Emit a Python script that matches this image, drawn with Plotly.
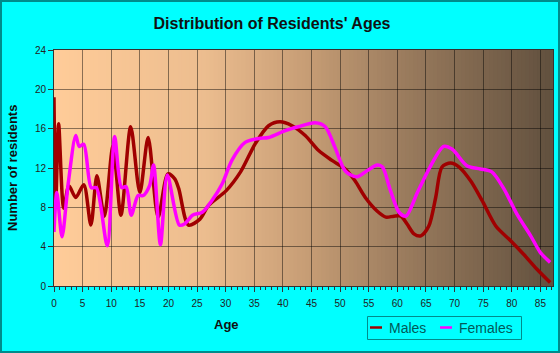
import plotly.graph_objects as go

# ---- data ----
male_ages = [0, 0.3, 0.8, 1.7, 2.6, 3.8, 5.2, 6.45, 7.5, 8.8, 10.3, 11.7, 13.4, 15.0, 16.45,
             18.2, 19.9, 21.1, 21.8, 23.5, 25.5, 27, 30.1, 32.6, 35.2, 37.5, 39.5, 41.6, 43.9,
             46.2, 48.5, 50.9, 52.6, 54.4, 56.5, 58, 59.4, 60.6, 61.7, 62.9, 64.1, 65.5, 66.7,
             67.8, 69.3, 70.8, 72.8, 74.8, 77.2, 79.8, 82.1, 84.4, 86.7]
male_vals = [19.2, 8.2, 16.5, 7.9, 10.2, 9.0, 10.3, 6.2, 11.2, 7.1, 14.2, 7.2, 16.2, 9.5, 15.1,
             7.0, 11.4, 10.9, 9.9, 6.2, 6.8, 8.2, 9.7, 11.6, 14.5, 16.3, 16.7, 16.3, 15.3,
             13.8, 12.8, 11.9, 10.7, 9.0, 7.6, 7.0, 7.1, 7.1, 6.3, 5.3, 5.1, 6.1, 9.0,
             12.1, 12.5, 12.1, 10.7, 8.7, 6.1, 4.6, 3.2, 1.7, 0.35]

female_ages = [0, 0.5, 1.4, 2.5, 3.8, 4.4, 5.2, 6.5, 7.4, 9.3, 10.6, 11.8, 12.6, 13.5, 14.7,
               15.6, 16.7, 17.4, 18.6, 19.8, 21.9, 22.8, 24.2, 25.9, 27.6, 29.4, 31.1, 33.4,
               35.8, 37.5, 40.4, 42.7, 45.6, 47.4, 49.1, 50.9, 52.9, 54.9, 56.5, 57.4, 58.8,
               60.3, 61.5, 63.5, 65.8, 68.1, 69.6, 72.2, 74.5, 76.5, 78.6, 80.9, 83.3, 85.0, 86.7]
female_vals = [5.5, 9.5, 5.0, 10.5, 15.3, 14.2, 14.4, 10.0, 10.0, 4.1, 15.2, 10.0, 10.1, 7.2, 9.2,
               9.2, 10.2, 12.3, 4.2, 11.3, 6.2, 6.3, 7.2, 7.5, 8.7, 10.4, 12.8, 14.6,
               15.0, 15.1, 15.8, 16.2, 16.6, 16.2, 14.1, 11.7, 11.1, 11.8, 12.3, 12.1, 9.7,
               7.5, 7.1, 9.5, 12.2, 14.2, 13.9, 12.2, 11.9, 11.6, 9.9, 7.3, 5.1, 3.4, 2.4]

series_names = ["Males", "Females"]
series_colors = ["#a00000", "#ff00ff"]

x_ticks = list(range(0, 90, 5))
y_ticks = list(range(0, 28, 4))

W, H = 560, 353
L, R, T, B = 54, 7, 50, 67
PW, PH = W - L - R, H - T - B


def px_x(p):
    return (p - L) / PW


def px_y(p):
    return (T + PH - p) / PH


fig = go.Figure()
for name, color, xs, ys in zip(series_names, series_colors,
                               [male_ages, female_ages], [male_vals, female_vals]):
    fig.add_trace(go.Scatter(x=xs, y=ys, name=name, mode="lines", showlegend=False,
                             line=dict(color=color, width=3.5, shape="spline", smoothing=0.8)))

# gradient background strips
stops = [(0.0, (255, 204, 153)), (0.3, (236, 189, 143)), (0.5, (200, 158, 118)),
         (0.7, (155, 124, 94)), (1.0, (97, 80, 62))]


def col(f):
    for (a, ca), (b, cb) in zip(stops[:-1], stops[1:]):
        if a <= f <= b:
            t = (f - a) / (b - a)
            return "rgb(%d,%d,%d)" % tuple(round(ca[i] + (cb[i] - ca[i]) * t) for i in range(3))
    return "rgb(%d,%d,%d)" % stops[-1][1]


shapes = []
N = 125
for i in range(N):
    x0 = i / N
    x1 = min(1.0, (i + 1.6) / N)
    shapes.append(dict(type="rect", xref="paper", yref="paper", x0=x0, x1=x1, y0=0, y1=1,
                       fillcolor=col((i + 0.5) / N), line=dict(width=0), layer="below"))
# figure border
shapes.append(dict(type="rect", xref="paper", yref="paper",
                   x0=px_x(1), x1=px_x(W - 1), y0=px_y(H - 1), y1=px_y(1),
                   line=dict(color="#008b8b", width=2), fillcolor="rgba(0,0,0,0)", layer="above"))
# manual legend box
shapes.append(dict(type="rect", xref="paper", yref="paper",
                   x0=px_x(367.5), x1=px_x(521.5), y0=px_y(339.5), y1=px_y(316.5),
                   line=dict(color="#008b8b", width=1), fillcolor="rgba(0,0,0,0)", layer="above"))
legend_items = [(370, 387, series_names[0], series_colors[0]),
                (440, 457, series_names[1], series_colors[1])]
annotations = []
for lx, tx, name, color in legend_items:
    shapes.append(dict(type="line", xref="paper", yref="paper",
                       x0=px_x(lx), x1=px_x(lx + 12), y0=px_y(327.5), y1=px_y(327.5),
                       line=dict(color=color, width=2.5), layer="above"))
    annotations.append(dict(text=name, xref="paper", yref="paper", x=px_x(tx), y=px_y(328),
                            xanchor="left", yanchor="middle", showarrow=False,
                            font=dict(size=14, color="#005a5a")))

annotations += [
    dict(text="<b>Age</b>", xref="paper", yref="paper", x=px_x(226), y=px_y(324),
         showarrow=False, font=dict(size=13, color="#111"), xanchor="center", yanchor="middle"),
    dict(text="<b>Number of residents</b>", xref="paper", yref="paper", x=px_x(12), y=0.5,
         textangle=-90, showarrow=False, font=dict(size=13, color="#111"),
         xanchor="center", yanchor="middle"),
]

fig.update_layout(
    width=W, height=H,
    margin=dict(l=L, r=R, t=T, b=B),
    paper_bgcolor="#00ffff",
    plot_bgcolor="rgba(0,0,0,0)",
    showlegend=False,
    shapes=shapes,
    annotations=annotations,
    title=dict(text="<b>Distribution of Residents' Ages</b>", x=272 / W, xref="container",
               xanchor="center", y=1 - 23 / H, yref="container", yanchor="middle",
               font=dict(family="Liberation Sans, Arial", size=16, color="#111")),
    font=dict(family="Liberation Sans, Arial", size=10, color="#222"),
    xaxis=dict(range=[0, 87.2], tickvals=x_ticks, showgrid=True,
               gridcolor="rgba(0,0,0,0.45)", gridwidth=1, zeroline=False,
               showline=True, linecolor="#333", linewidth=1, mirror=True,
               ticks="outside", ticklen=5, tickcolor="#333", ticklabelstandoff=3,
               minor=dict(dtick=1, tick0=0, ticks="outside", ticklen=3, tickcolor="#333", showgrid=False),
               tickfont=dict(size=10, color="#222")),
    yaxis=dict(range=[0, 24], tickvals=y_ticks, showgrid=True,
               gridcolor="rgba(0,0,0,0.45)", gridwidth=1, zeroline=False,
               showline=True, linecolor="#333", linewidth=1, mirror=True,
               ticks="outside", ticklen=5, tickcolor="#333",
               tickfont=dict(size=10, color="#222")),
)

fig.write_html("out.html")
